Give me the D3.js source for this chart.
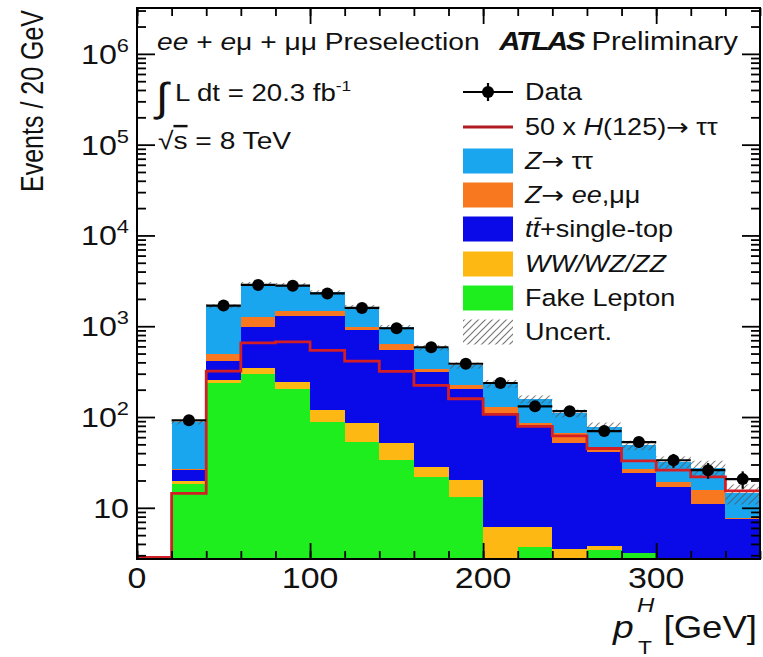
<!DOCTYPE html>
<html>
<head>
<meta charset="utf-8">
<script src="https://cdn.jsdelivr.net/npm/d3@7"></script>
<style>
  body { margin: 0; background: #fff; }
  svg { display: block; }
</style>
</head>
<body>
<svg id="chart" width="763" height="657"></svg>
<script>
// ---- binning (20 GeV bins in pT of the Higgs candidate) ----
const binLow  = [0, 20, 40, 60, 80, 100, 120, 140, 160, 180, 200, 220, 240, 260, 280, 300, 320, 340];
const binHigh = [20, 40, 60, 80, 100, 120, 140, 160, 180, 200, 220, 240, 260, 280, 300, 320, 340, 360];

// ---- background processes, events per bin (stacked bottom -> top) ----
const fakeLepton = [0, 18.1, 240, 294, 205, 88, 53, 33.4, 21.9, 13.2, 0, 3.67, 0, 3.43, 3.15, 0, 0, 0];
const diboson    = [0, 1.5, 18, 55, 38, 31, 32, 18, 6.3, 6.9, 6.1, 2.5, 3.5, 0.4, 0.05, 0, 0, 0];
const topQuark   = [0, 6.8, 151, 626, 1037, 1161, 828, 500, 284, 185, 103, 75, 48.5, 37, 21, 16.9, 11, 7.6];
const zll        = [0, 0.6, 86, 281, 190, 190, 80, 78, 28, 18, 20, 4, 14, 5.8, 2.8, 2.4, 4.7, 0.2];
const ztautau    = [0, 61, 1165, 1669, 1390, 896, 626, 346, 239, 147, 104, 72, 44, 31, 22, 12.7, 11.8, 6.7];

// relative systematic uncertainty on the total background
const bkgUncert  = [0, 0.06, 0.05, 0.05, 0.05, 0.05, 0.06, 0.06, 0.07, 0.08, 0.1, 0.1, 0.1, 0.12, 0.12, 0.15, 0.2, 0.25];

// signal, scaled by 50
const higgsX50   = [2.85, 14.4, 321, 656, 673, 541, 412, 318, 223, 159, 107, 79, 62, 45, 32.8, 26, 21.9, 15.4];

// observed data with statistical errors
const dataCounts = [null, 92, 1690, 2850, 2800, 2300, 1590, 950, 587, 386, 237, 131, 116, 70, 53, 33.4, 26, 20.7];
const dataErrors = [null, 9.6, 41, 53, 53, 48, 40, 31, 24, 20, 15, 11.5, 10.8, 8.4, 7.3, 5.8, 5.1, 4.5];

// ---- axis ticks ----
const xTickValues = [0, 100, 200, 300];
const xTickLabels = ["0", "100", "200", "300"];
const yTickValues = [10, 100, 1e3, 1e4, 1e5, 1e6];
const yTickExps   = ["", "2", "3", "4", "5", "6"];

// ---- legend ----
const processKeys   = ["fake", "dib", "top", "zll", "ztt"];
const processColors = { ztt: "#1aa6ee", zll: "#f7781e", top: "#0a0ae8", dib: "#fdb813", fake: "#1eee1e" };
const higgsColor = "#d21f26";

const FONT = "'Liberation Sans', Arial, Helvetica, sans-serif";
const ARROW_FONT = "'DejaVu Sans', sans-serif";
const SX = 1.15;   // horizontal stretch of the lettering

const svg = d3.select("#chart");
const frame = { l: 137, r: 760, t: 8, b: 559 };

const x = d3.scaleLinear().domain([0, 360]).range([frame.l, frame.r]);
const yMin = 2.73;
const y = d3.scaleLog().domain([yMin, 3.2e6]).range([frame.b, frame.t]).clamp(true);

// hatch pattern for the uncertainty band
const defs = svg.append("defs");
const pat = defs.append("pattern").attr("id", "hatch").attr("patternUnits", "userSpaceOnUse")
  .attr("width", 7).attr("height", 7);
pat.append("path").attr("d", "M-1,1 l2,-2 M0,7 l7,-7 M6,8 l2,-2")
  .attr("stroke", "#555").attr("stroke-width", 1.2).attr("fill", "none");
defs.append("clipPath").attr("id", "plotClip").append("rect")
  .attr("x", frame.l).attr("y", frame.t).attr("width", frame.r - frame.l).attr("height", frame.b - frame.t);

// ---- stacked backgrounds ----
const table = binLow.map((lo, i) => ({
  i, lo, hi: binHigh[i],
  fake: fakeLepton[i], dib: diboson[i], top: topQuark[i], zll: zll[i], ztt: ztautau[i]
}));
const stacked = d3.stack().keys(processKeys)(table);

const plot = svg.append("g").attr("clip-path", "url(#plotClip)");
stacked.forEach(layer => {
  plot.append("g").attr("fill", processColors[layer.key]).attr("shape-rendering", "crispEdges")
    .selectAll("rect")
    .data(layer.filter(d => d[1] > Math.max(d[0], yMin)))
    .join("rect")
    .attr("x", d => x(d.data.lo))
    .attr("width", d => x(d.data.hi) - x(d.data.lo))
    .attr("y", d => y(d[1]))
    .attr("height", d => y(Math.max(d[0], yMin)) - y(d[1]));
});

// total background uncertainty band
const totals = table.map(d => d.fake + d.dib + d.top + d.zll + d.ztt);
plot.append("g").selectAll("rect")
  .data(table.filter(d => totals[d.i] > 0))
  .join("rect")
  .attr("x", d => x(d.lo))
  .attr("width", d => x(d.hi) - x(d.lo))
  .attr("y", d => y(totals[d.i] * (1 + bkgUncert[d.i])))
  .attr("height", d => y(totals[d.i] * (1 - bkgUncert[d.i])) - y(totals[d.i] * (1 + bkgUncert[d.i])))
  .attr("fill", "url(#hatch)").attr("opacity", 0.7);

// signal step line
const higgsPts = binLow.map((lo, i) => [lo, higgsX50[i]]).concat([[360, higgsX50[higgsX50.length - 1]]]);
plot.append("path")
  .attr("d", d3.line().x(d => x(d[0])).y(d => y(d[1])).curve(d3.curveStepAfter)(higgsPts))
  .attr("fill", "none").attr("stroke", higgsColor).attr("stroke-width", 2.8);

// data points with error bars
const dataRows = table.filter(d => dataCounts[d.i] != null);
const dg = plot.append("g");
dg.selectAll("line.h").data(dataRows).join("line").attr("class", "h")
  .attr("x1", d => x(d.lo)).attr("x2", d => x(d.hi))
  .attr("y1", d => y(dataCounts[d.i])).attr("y2", d => y(dataCounts[d.i]))
  .attr("stroke", "#000").attr("stroke-width", 2.2);
dg.selectAll("line.v").data(dataRows).join("line").attr("class", "v")
  .attr("x1", d => x((d.lo + d.hi) / 2)).attr("x2", d => x((d.lo + d.hi) / 2))
  .attr("y1", d => y(dataCounts[d.i] + dataErrors[d.i])).attr("y2", d => y(dataCounts[d.i] - dataErrors[d.i]))
  .attr("stroke", "#000").attr("stroke-width", 2.2);
dg.selectAll("circle").data(dataRows).join("circle")
  .attr("cx", d => x((d.lo + d.hi) / 2)).attr("cy", d => y(dataCounts[d.i]))
  .attr("r", 6).attr("fill", "#000");

// ---- frame and ticks (ROOT style, ticks on all four sides) ----
const xMinor = d3.range(0, 361, 20);
const yMinor = [];
for (let dec = 1; dec <= 1e6; dec *= 10) for (let k = 2; k <= 9; k++) {
  const v = k * dec; if (v > yMin && v < 3.2e6 && !yTickValues.includes(v)) yMinor.push(v);
}
function axisGroup(axis, tx, ty) {
  const g = svg.append("g").attr("transform", `translate(${tx},${ty})`).call(axis);
  g.select(".domain").remove();
  g.selectAll("line").attr("stroke", "#000").attr("stroke-width", 1.8);
  g.selectAll("text").remove();
}
axisGroup(d3.axisBottom(x).tickValues(xMinor).tickSize(-8), 0, frame.b);
axisGroup(d3.axisBottom(x).tickValues(xTickValues).tickSize(-16), 0, frame.b);
axisGroup(d3.axisTop(x).tickValues(xMinor).tickSize(-8), 0, frame.t);
axisGroup(d3.axisTop(x).tickValues(xTickValues).tickSize(-16), 0, frame.t);
axisGroup(d3.axisLeft(y).tickValues(yMinor).tickSize(-9), frame.l, 0);
axisGroup(d3.axisLeft(y).tickValues(yTickValues).tickSize(-18), frame.l, 0);
axisGroup(d3.axisRight(y).tickValues(yMinor).tickSize(-9), frame.r, 0);
axisGroup(d3.axisRight(y).tickValues(yTickValues).tickSize(-18), frame.r, 0);

svg.append("rect").attr("x", frame.l).attr("y", frame.t)
  .attr("width", frame.r - frame.l).attr("height", frame.b - frame.t)
  .attr("fill", "none").attr("stroke", "#000").attr("stroke-width", 2);

// ---- text helper ----
function label(px, py, size, anchor, build, extra, sx) {
  const g = svg.append("g").attr("transform", `translate(${px},${py}) scale(${sx || SX},1)` + (extra || ""));
  const t = g.append("text").attr("font-family", FONT).attr("font-size", size)
    .attr("text-anchor", anchor).attr("fill", "#111");
  build(t);
  return t;
}
const span = (t, s, o = {}) => {
  const ts = t.append("tspan").text(s);
  if (o.it) ts.attr("font-style", "italic");
  if (o.b) ts.attr("font-weight", "bold");
  if (o.size) ts.attr("font-size", o.size);
  if (o.dy) ts.attr("dy", o.dy);
  if (o.ls) ts.attr("letter-spacing", o.ls);
  if (o.font) ts.attr("font-family", o.font);
  return ts;
};
const arrow = t => span(t, "\u2192", { font: ARROW_FONT });

// tick labels
xTickValues.forEach((v, i) => label(x(v), 588, 29.5, "middle", t => span(t, xTickLabels[i])));
yTickValues.forEach((v, i) => label(129, y(v) + 10, 28, "end", t => {
  span(t, "10");
  if (yTickExps[i]) span(t, yTickExps[i], { size: 19, dy: -12 });
}));

// axis titles
label(43, 10, 25, "end", t => span(t, "Events / 20 GeV"), " rotate(-90)", 1.25);
label(757, 638, 30.5, "end", t => span(t, "[GeV]"), "", 1.2);
label(613, 638, 31, "start", t => span(t, "p", { it: true }), "", 1.2);
label(637, 612, 20, "start", t => span(t, "H", { it: true }), "", 1.2);
label(638, 654, 19, "start", t => span(t, "T"), "", 1.2);

// header
label(157, 50, 24.5, "start", t => {
  span(t, "ee", { it: true }); span(t, " + "); span(t, "e", { it: true }); span(t, "μ + μμ Preselection");
});
label(738, 50, 25.5, "end", t => { span(t, "ATLAS", { it: true, b: true, ls: -2 }); span(t, " Preliminary"); });
label(156, 111, 40, "start", t => span(t, "∫"));
label(175, 101, 24, "start", t => { span(t, "L dt = 20.3 fb"); span(t, "-1", { size: 15, dy: -10 }); });
label(158, 149, 24.5, "start", t => { span(t, "√"); span(t, "s").style("text-decoration", "overline"); span(t, " = 8 TeV"); });

// ---- legend ----
const lgX = 463, lgTextX = 525;
const lgRows = [92, 127, 161, 195, 229, 264, 298, 332];
// data
svg.append("line").attr("x1", lgX).attr("x2", lgX + 50).attr("y1", lgRows[0]).attr("y2", lgRows[0])
  .attr("stroke", "#000").attr("stroke-width", 2.2);
svg.append("line").attr("x1", lgX + 25).attr("x2", lgX + 25).attr("y1", lgRows[0] - 9).attr("y2", lgRows[0] + 9)
  .attr("stroke", "#000").attr("stroke-width", 2.2);
svg.append("circle").attr("cx", lgX + 25).attr("cy", lgRows[0]).attr("r", 6).attr("fill", "#000");
// signal
svg.append("line").attr("x1", lgX).attr("x2", lgX + 50).attr("y1", lgRows[1]).attr("y2", lgRows[1])
  .attr("stroke", "#b01c22").attr("stroke-width", 3);
// process swatches
const swatchKeys = ["ztt", "zll", "top", "dib", "fake"];
swatchKeys.forEach((k, i) => {
  svg.append("rect").attr("x", lgX).attr("y", lgRows[i + 2] - 12.5).attr("width", 50).attr("height", 25)
    .attr("fill", processColors[k]);
});
svg.append("rect").attr("x", lgX).attr("y", lgRows[7] - 12.5).attr("width", 50).attr("height", 25)
  .attr("fill", "url(#hatch)").attr("opacity", 0.8);

const lgY = r => lgRows[r] + 8;
const LF = 23.5;
label(lgTextX, lgY(0), LF, "start", t => span(t, "Data"));
label(lgTextX, lgY(1), LF, "start", t => { span(t, "50 x "); span(t, "H", { it: true }); span(t, "(125)"); arrow(t); span(t, " ττ"); });
label(lgTextX, lgY(2), LF, "start", t => { span(t, "Z", { it: true }); arrow(t); span(t, " ττ"); });
label(lgTextX, lgY(3), LF, "start", t => { span(t, "Z", { it: true }); arrow(t); span(t, " "); span(t, "ee", { it: true }); span(t, ",μμ"); });
label(lgTextX, lgY(4), LF, "start", t => { span(t, "tt\u0304", { it: true }); span(t, "+single-top"); });
label(lgTextX, lgY(5), LF, "start", t => span(t, "WW/WZ/ZZ", { it: true }));
label(lgTextX, lgY(6), LF, "start", t => span(t, "Fake Lepton"));
label(lgTextX, lgY(7), LF, "start", t => span(t, "Uncert."));
</script>
</body>
</html>
